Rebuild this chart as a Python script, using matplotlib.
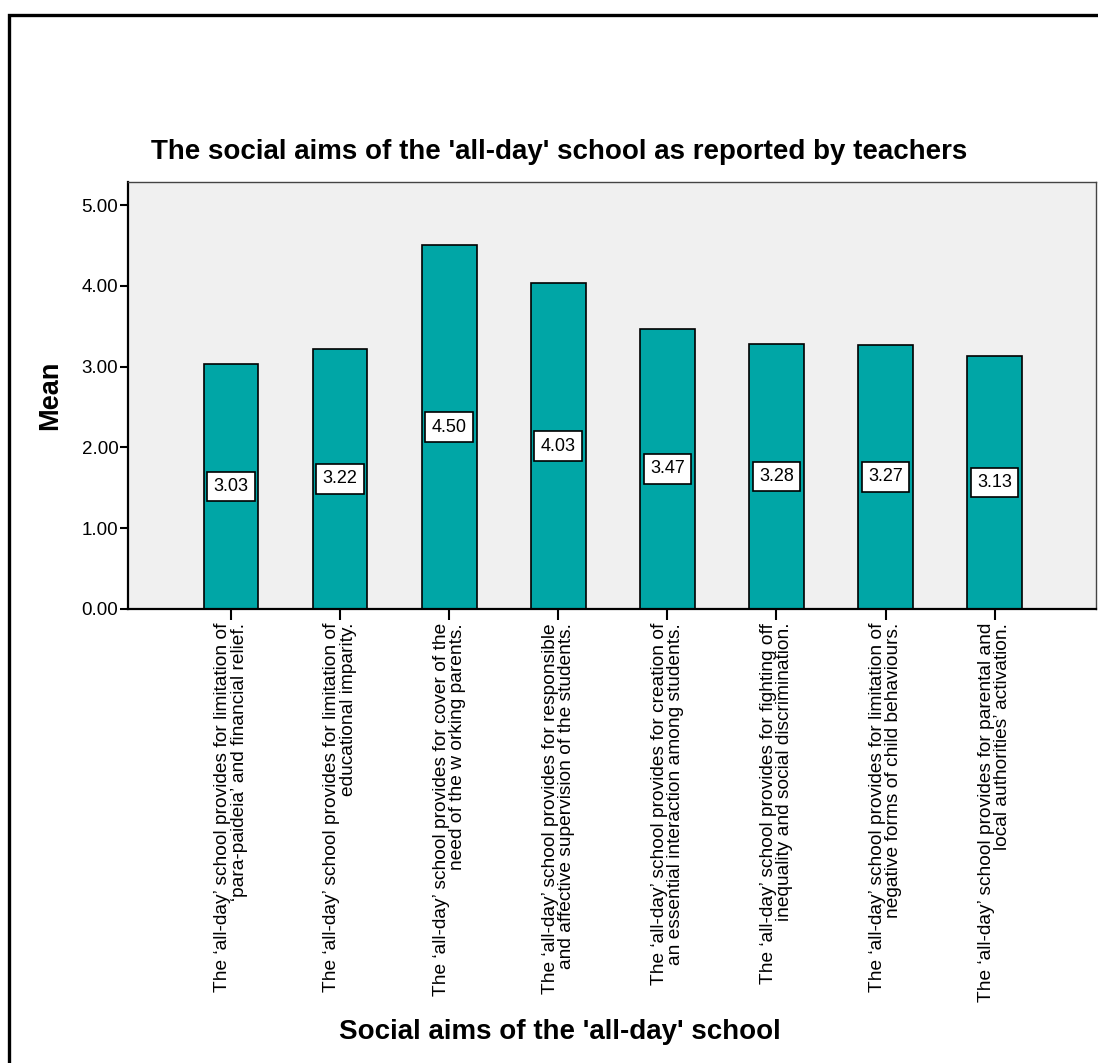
import matplotlib.pyplot as plt
from matplotlib.patches import Rectangle

# data
labels = [
    "The \u2018all-day\u2019 school provides for limitation of\n\u2018para-paideia\u2019 and financial relief.",
    "The \u2018all-day\u2019 school provides for limitation of\neducational imparity.",
    "The \u2018all-day\u2019 school provides for cover of the\nneed of the w orking parents.",
    "The \u2018all-day\u2019 school provides for responsible\nand affective supervision of the students.",
    "The \u2018all-day\u2019 school provides for creation of\nan essential interaction among students.",
    "The \u2018all-day\u2019 school provides for fighting off\ninequality and social discrimination.",
    "The \u2018all-day\u2019 school provides for limitation of\nnegative forms of child behaviours.",
    "The \u2018all-day\u2019 school provides for parental and\nlocal authorities\u2019 activation.",
]
means = [3.03, 3.22, 4.50, 4.03, 3.47, 3.28, 3.27, 3.13]
yticks = [0, 1, 2, 3, 4, 5]

plt.rcParams['font.family'] = ['Liberation Sans', 'DejaVu Sans']

fig = plt.figure(figsize=(10.98, 10.63), dpi=100)
ax = fig.add_axes([0.1166, 0.4271, 0.8816, 0.4017])

x = list(range(len(means)))
ax.bar(x, means, width=0.5, color='#00a6a6', edgecolor='black', linewidth=1.2, zorder=2)

# value boxes at half height
for xi, m in zip(x, means):
    ax.text(xi, m / 2, f"{m:.2f}", ha='center', va='center', fontsize=13,
            bbox=dict(boxstyle='square,pad=0.35', fc='white', ec='black', lw=1.2), zorder=3)

ax.set_facecolor('#f0f0f0')
ax.set_xlim(-0.945, 7.93)
ax.set_ylim(0, 5.285)
ax.set_yticks(yticks)
ax.set_yticklabels([f"{v:.2f}" for v in yticks], fontsize=13.5)
ax.set_xticks(x)
ax.set_xticklabels(labels, rotation=90, ha='center', va='top', multialignment='right',
                   fontsize=13.8, linespacing=0.95)
ax.tick_params(axis='y', direction='out', length=6, width=1.5, pad=1)
ax.tick_params(axis='x', direction='out', length=8, width=1.5, pad=2)
for side in ['left', 'bottom']:
    ax.spines[side].set_linewidth(1.6)
for side in ['top', 'right']:
    ax.spines[side].set_linewidth(1.0)
    ax.spines[side].set_color('#444444')

fig.text(0.509, 0.857, "The social aims of the 'all-day' school as reported by teachers",
         ha='center', va='center', fontsize=20, fontweight='bold')
fig.text(0.046, 0.628, "Mean", rotation=90, ha='center', va='center',
         fontsize=19.5, fontweight='bold')
fig.text(0.51, 0.029, "Social aims of the 'all-day' school", ha='center', va='center',
         fontsize=20, fontweight='bold')

# outer frame (cut off at right/bottom)
fig.patches.append(Rectangle((0.0085, -0.05), 1.1, 1.05 - 0.0141, transform=fig.transFigure,
                             fill=False, ec='black', lw=2.4, clip_on=False))

fig.savefig('out.png', dpi=100)
